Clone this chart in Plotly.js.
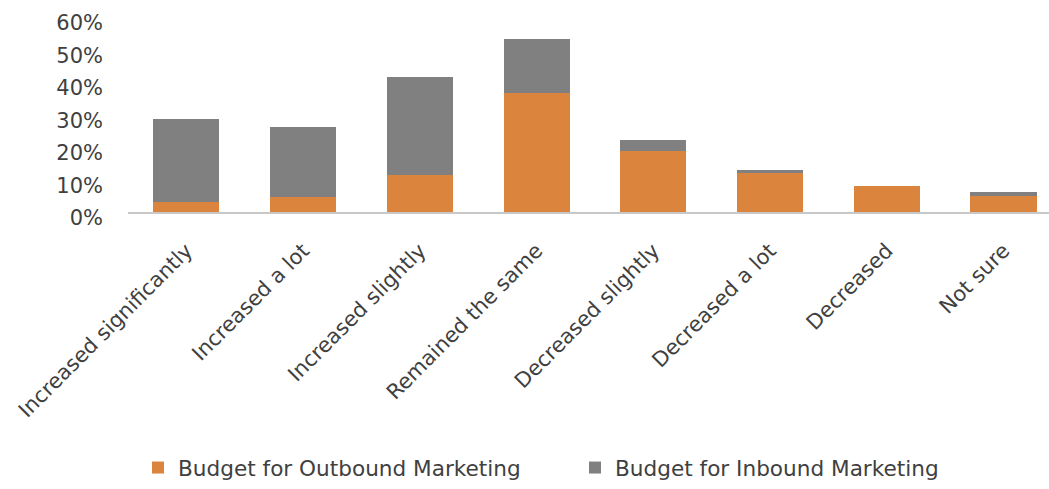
<!DOCTYPE html>
<html>
<head>
<meta charset="utf-8">
<script src="https://cdn.plot.ly/plotly-3.0.1.min.js"></script>
<style>html,body{margin:0;padding:0;background:#fff;}#chart{width:1049px;height:489px;}</style>
</head>
<body>
<div id="chart"></div>
<script>
const categories = ["Increased significantly", "Increased a lot", "Increased slightly", "Remained the same", "Decreased slightly", "Decreased a lot", "Decreased", "Not sure"];
const outbound = [0.031, 0.046, 0.113, 0.367, 0.187, 0.120, 0.080, 0.048];
const inbound = [0.256, 0.216, 0.302, 0.166, 0.034, 0.010, 0.000, 0.015];
const yTicks = [0, 0.1, 0.2, 0.3, 0.4, 0.5, 0.6];
const seriesNames = ["Budget for Outbound Marketing", "Budget for Inbound Marketing"];

const FONT = "'DejaVu Sans', sans-serif";
const TXT = "#404040";
const FS = 21;

const traces = [
  {type: "bar", name: seriesNames[0], x: categories, y: outbound, marker: {color: "#DB843D"}, hoverinfo: "none"},
  {type: "bar", name: seriesNames[1], x: categories, y: inbound, marker: {color: "#808080"}, hoverinfo: "none"}
];

const layout = {
  width: 1049, height: 489,
  margin: {l: 128, r: 0, t: 17, b: 277},
  barmode: "stack",
  bargap: 0.434,
  paper_bgcolor: "#fff", plot_bgcolor: "#fff",
  font: {family: FONT, size: FS, color: TXT},
  showlegend: true,
  legend: {
    orientation: "h", xref: "container", yref: "container",
    x: 138/1049, xanchor: "left", y: 1 - 468/489, yanchor: "middle",
    font: {family: FONT, size: 21.6, color: TXT},
    entrywidth: 392, traceorder: "normal"
  },
  xaxis: {
    type: "category", range: [-0.5, 7.39], tickangle: -45,
    showline: true, linecolor: "#c8c8c8", linewidth: 2,
    showgrid: false, zeroline: false, ticks: "",
    tickfont: {family: FONT, size: FS, color: TXT},
    ticklabelstandoff: 16
  },
  yaxis: {
    range: [0, 0.6001], tickvals: yTicks, tickformat: ".0%",
    showgrid: false, zeroline: false, showline: false, ticks: "",
    tickfont: {family: FONT, size: FS, color: TXT},
    ticklabelstandoff: 24, ticklabelshift: 6
  }
};

Plotly.newPlot("chart", traces, layout, {displayModeBar: false, staticPlot: true});
</script>
</body>
</html>
